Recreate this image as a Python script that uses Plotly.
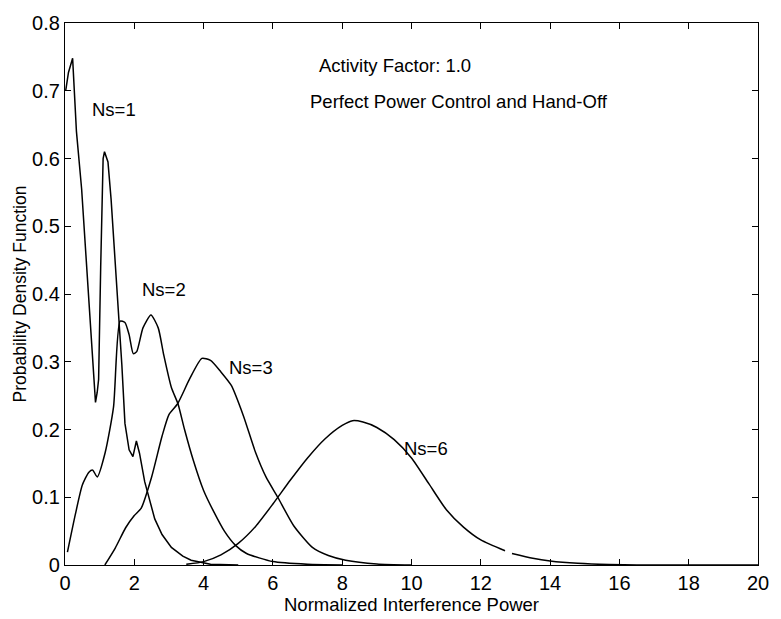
import plotly.graph_objects as go

# Ns=1
ns1_x = [0.02, 0.1, 0.22, 0.33, 0.48, 0.62, 0.71, 0.8, 0.88, 0.93, 0.97, 1.03, 1.1, 1.14, 1.24, 1.33, 1.46, 1.55,
         1.64, 1.73, 1.85, 1.96, 2.06, 2.15, 2.3, 2.59, 2.8, 3.07, 3.4, 3.64, 4.2, 5.0]
ns1_y = [0.70, 0.727, 0.748, 0.64, 0.555, 0.44, 0.364, 0.30, 0.24, 0.255, 0.274, 0.44, 0.60, 0.61, 0.595, 0.54, 0.44, 0.375,
         0.296, 0.209, 0.17, 0.16, 0.183, 0.165, 0.123, 0.068, 0.045, 0.026, 0.013, 0.007, 0.001, 0.0]

# Ns=2
ns2_x = [0.07, 0.3, 0.5, 0.69, 0.8, 0.93, 1.16, 1.4, 1.59, 1.73, 1.85, 1.97, 2.07, 2.25, 2.48, 2.69,
         2.85, 3.07, 3.26, 3.45, 3.7, 4.0, 4.3, 4.6, 4.92, 5.24, 6.0, 7.0, 8.0]
ns2_y = [0.019, 0.075, 0.118, 0.137, 0.14, 0.13, 0.166, 0.233, 0.36, 0.358, 0.34, 0.312, 0.315, 0.35, 0.369, 0.35,
         0.31, 0.262, 0.238, 0.2, 0.155, 0.11, 0.078, 0.05, 0.029, 0.017, 0.005, 0.001, 0.0]

# Ns=3
ns3_x = [1.15, 1.45, 1.75, 2.0, 2.2, 2.5, 2.8, 3.0, 3.25, 3.6, 3.95, 4.2, 4.5, 4.8, 5.15, 5.5, 5.8,
         6.14, 6.6, 7.14, 7.6, 8.1, 9.0, 10.0]
ns3_y = [0.0, 0.025, 0.055, 0.073, 0.084, 0.13, 0.19, 0.222, 0.238, 0.275, 0.305, 0.302, 0.285, 0.265, 0.22,
         0.166, 0.13, 0.10, 0.058, 0.026, 0.014, 0.007, 0.0015, 0.0]

# Ns=6 (None marks the break visible in the original print)
ns6_x = [3.5, 4.0, 4.5, 5.0, 5.5, 6.0, 6.5, 7.0, 7.5, 8.0, 8.3, 8.6, 9.0, 9.5, 10.0, 10.5,
         11.0, 11.5, 12.0, 12.7, None, 12.9, 13.5, 14.0, 14.8, 15.7, 16.5, 20.0]
ns6_y = [0.001, 0.005, 0.015, 0.032, 0.057, 0.09, 0.125, 0.158, 0.186, 0.206, 0.213, 0.211, 0.203, 0.185, 0.158,
         0.12, 0.082, 0.056, 0.037, 0.021, None, 0.017, 0.01, 0.006, 0.0025, 0.0006, 0.0, 0.0]

x_ticks = [0, 2, 4, 6, 8, 10, 12, 14, 16, 18, 20]
y_ticks = [0, 0.1, 0.2, 0.3, 0.4, 0.5, 0.6, 0.7, 0.8]
y_ticklabels = ["0", "0.1", "0.2", "0.3", "0.4", "0.5", "0.6", "0.7", "0.8"]

series = [("Ns=1", ns1_x, ns1_y, "linear"), ("Ns=2", ns2_x, ns2_y, "spline"),
          ("Ns=3", ns3_x, ns3_y, "spline"), ("Ns=6", ns6_x, ns6_y, "spline")]
curve_labels = [("Ns=1", 1.4, 0.672), ("Ns=2", 2.86, 0.406), ("Ns=3", 5.37, 0.292), ("Ns=6", 10.43, 0.172)]
notes = [("Activity Factor: 1.0", 7.26, 0.737), ("Perfect Power Control and Hand-Off", 7.02, 0.684)]

FONT = "Liberation Sans, Arial, Helvetica, sans-serif"
TXT = 18.5

fig = go.Figure()
for name, xs, ys, shp in series:
    line = dict(color="black", width=1.5, shape=shp)
    if shp == "spline":
        line["smoothing"] = 0.6
    fig.add_trace(go.Scatter(x=xs, y=ys, mode="lines", name=name, line=line,
                             connectgaps=False, showlegend=False))

for text, x, y in curve_labels:
    fig.add_annotation(x=x, y=y, text=text, showarrow=False, xref="x", yref="y",
                       font=dict(family=FONT, size=TXT, color="black"))
for text, x, y in notes:
    fig.add_annotation(x=x, y=y, text=text, showarrow=False, xref="x", yref="y", xanchor="left",
                       font=dict(family=FONT, size=TXT, color="black"))

axis_common = dict(showline=True, linecolor="black", linewidth=1.2, mirror="ticks", ticks="inside",
                   ticklen=6, tickcolor="black", tickwidth=1, showgrid=False, zeroline=False,
                   tickfont=dict(family=FONT, size=20, color="black"))

fig.update_xaxes(range=[0, 20], tickvals=x_ticks, ticktext=[str(v) for v in x_ticks],
                 title=dict(text="Normalized Interference Power", standoff=0,
                            font=dict(family=FONT, size=TXT, color="black")),
                 **axis_common)
fig.update_yaxes(range=[0, 0.8], tickvals=y_ticks, ticktext=y_ticklabels,
                 title=dict(text="Probability Density Function", standoff=0,
                            font=dict(family=FONT, size=17.5, color="black")),
                 **axis_common)

fig.update_layout(width=781, height=619, margin=dict(l=65, r=12, t=15, b=47),
                  plot_bgcolor="white", paper_bgcolor="white")

fig.write_html("out.html")
